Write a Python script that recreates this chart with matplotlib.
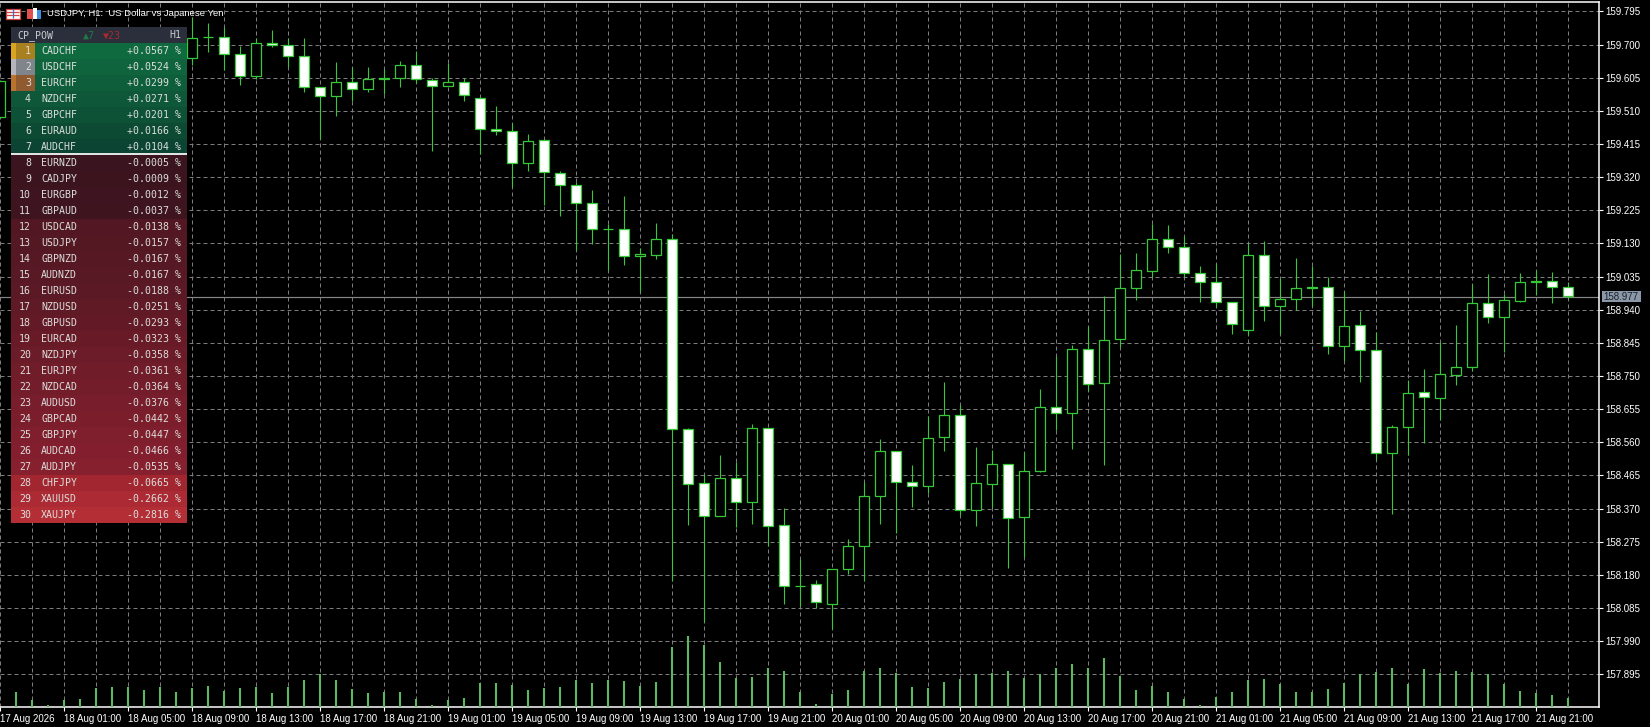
import numpy as np
import matplotlib
matplotlib.use("Agg")
import matplotlib.pyplot as plt
from matplotlib.patches import Rectangle

# USDJPY H1 candles (bars 1-11 are hidden behind the panel)
bar_index = [0] + list(range(12, 99))
highs = [159.596, 159.779, 159.763, 159.750, 159.695, 159.719, 159.743, 159.720, 159.720, 159.578,
         159.649, 159.637, 159.637, 159.631, 159.652, 159.681, 159.603, 159.647, 159.603, 159.550,
         159.525, 159.476, 159.444, 159.428, 159.339, 159.305, 159.284, 159.185, 159.267, 159.116,
         159.188, 159.157, 158.602, 158.469, 158.524, 158.503, 158.612, 158.601, 158.372, 158.227,
         158.165, 158.198, 158.284, 158.446, 158.570, 158.536, 158.495, 158.636, 158.733, 158.668,
         158.547, 158.538, 158.497, 158.532, 158.712, 158.806, 158.839, 158.894, 158.978, 159.099,
         159.102, 159.185, 159.183, 159.150, 159.065, 159.071, 158.961, 159.132, 159.137, 159.030,
         159.087, 159.066, 159.035, 158.995, 158.937, 158.875, 158.609, 158.738, 158.770, 158.847,
         158.896, 159.014, 159.043, 158.984, 159.045, 159.054, 159.048, 159.019]
lows = [159.492, 159.642, 159.678, 159.628, 159.584, 159.601, 159.693, 159.636, 159.564, 159.429,
        159.495, 159.538, 159.563, 159.557, 159.578, 159.590, 159.395, 159.581, 159.538, 159.387,
        159.441, 159.292, 159.337, 159.241, 159.210, 159.112, 159.127, 159.055, 159.069, 158.990,
        159.086, 158.164, 158.322, 158.044, 158.348, 158.316, 158.327, 158.264, 158.098, 158.092,
        158.085, 158.026, 158.183, 158.162, 158.327, 158.301, 158.375, 158.414, 158.534, 158.352,
        158.321, 158.371, 158.201, 158.232, 158.476, 158.594, 158.542, 158.708, 158.495, 158.834,
        158.969, 159.035, 159.104, 159.035, 158.963, 158.949, 158.871, 158.869, 158.909, 158.871,
        158.938, 158.951, 158.814, 158.792, 158.734, 158.508, 158.355, 158.524, 158.557, 158.624,
        158.723, 158.765, 158.903, 158.818, 158.963, 158.982, 158.960, 158.972]
opens = [159.492, 159.662, 159.723, 159.721, 159.674, 159.610, 159.705, 159.699, 159.668, 159.578,
         159.552, 159.593, 159.573, 159.604, 159.604, 159.641, 159.599, 159.581, 159.593, 159.548,
         159.459, 159.452, 159.360, 159.426, 159.333, 159.297, 159.246, 159.172, 159.171, 159.093,
         159.098, 159.142, 158.598, 158.443, 158.348, 158.458, 158.389, 158.601, 158.323, 158.148,
         158.153, 158.096, 158.196, 158.262, 158.406, 158.535, 158.446, 158.434, 158.575, 158.638,
         158.365, 158.442, 158.497, 158.345, 158.477, 158.661, 158.643, 158.827, 158.729, 158.855,
         159.001, 159.050, 159.142, 159.119, 159.045, 159.019, 158.961, 158.881, 159.096, 158.950,
         158.970, 159.004, 159.004, 158.835, 158.896, 158.824, 158.529, 158.605, 158.704, 158.688,
         158.752, 158.775, 158.959, 158.918, 158.966, 159.022, 159.022, 159.004]
closes = [159.596, 159.720, 159.721, 159.674, 159.611, 159.705, 159.700, 159.668, 159.579, 159.553,
          159.593, 159.572, 159.602, 159.602, 159.642, 159.602, 159.582, 159.593, 159.556, 159.459,
          159.453, 159.361, 159.424, 159.334, 159.297, 159.246, 159.171, 159.171, 159.093, 159.099,
          159.142, 158.598, 158.440, 158.348, 158.458, 158.389, 158.601, 158.319, 158.148, 158.147,
          158.102, 158.198, 158.263, 158.406, 158.535, 158.446, 158.434, 158.572, 158.638, 158.365,
          158.443, 158.497, 158.342, 158.477, 158.661, 158.643, 158.827, 158.726, 158.853, 159.002,
          159.053, 159.142, 159.119, 159.045, 159.019, 158.961, 158.898, 159.096, 158.950, 158.970,
          159.002, 159.001, 158.835, 158.893, 158.824, 158.529, 158.603, 158.701, 158.689, 158.755,
          158.775, 158.959, 158.918, 158.967, 159.019, 159.019, 159.004, 158.979]

# tick volume, bars 1..98
volumes = [46, 23, 7, 22, 25, 58, 61, 62, 52, 62, 46, 59, 64, 49, 58, 62, 43, 62, 82, 99,
           82, 55, 43, 45, 46, 26, 7, 22, 28, 73, 73, 67, 52, 58, 61, 81, 73, 81, 79, 64,
           76, 181, 214, 187, 136, 88, 91, 118, 109, 46, 10, 40, 52, 109, 118, 103, 61, 58, 76, 85,
           99, 103, 109, 88, 99, 118, 130, 118, 148, 93, 52, 64, 46, 26, 7, 31, 46, 82, 85, 70,
           46, 45, 55, 73, 99, 106, 118, 70, 115, 103, 109, 106, 99, 70, 49, 44, 37, 28]

price_ticks = [159.795, 159.700, 159.605, 159.510, 159.415, 159.320, 159.225, 159.130, 159.035,
               158.940, 158.845, 158.750, 158.655, 158.560, 158.465, 158.370, 158.275, 158.180,
               158.085, 157.990, 157.895]
time_labels = ["17 Aug 2026", "18 Aug 01:00", "18 Aug 05:00", "18 Aug 09:00", "18 Aug 13:00",
               "18 Aug 17:00", "18 Aug 21:00", "19 Aug 01:00", "19 Aug 05:00", "19 Aug 09:00",
               "19 Aug 13:00", "19 Aug 17:00", "19 Aug 21:00", "20 Aug 01:00", "20 Aug 05:00",
               "20 Aug 09:00", "20 Aug 13:00", "20 Aug 17:00", "20 Aug 21:00", "21 Aug 01:00",
               "21 Aug 05:00", "21 Aug 09:00", "21 Aug 13:00", "21 Aug 17:00", "21 Aug 21:00"]
last_price = 158.977

# CP_POW panel
pairs = ["CADCHF", "USDCHF", "EURCHF", "NZDCHF", "GBPCHF", "EURAUD", "AUDCHF", "EURNZD", "CADJPY",
         "EURGBP", "GBPAUD", "USDCAD", "USDJPY", "GBPNZD", "AUDNZD", "EURUSD", "NZDUSD", "GBPUSD",
         "EURCAD", "NZDJPY", "EURJPY", "NZDCAD", "AUDUSD", "GBPCAD", "GBPJPY", "AUDCAD", "AUDJPY",
         "CHFJPY", "XAUUSD", "XAUJPY"]
changes = [0.0567, 0.0524, 0.0299, 0.0271, 0.0201, 0.0166, 0.0104, -0.0005, -0.0009, -0.0012,
           -0.0037, -0.0138, -0.0157, -0.0167, -0.0167, -0.0188, -0.0251, -0.0293, -0.0323, -0.0358,
           -0.0361, -0.0364, -0.0376, -0.0442, -0.0447, -0.0466, -0.0535, -0.0665, -0.2662, -0.2816]

W, H = 1650, 727
GREEN = "#37c837"
GRID = "#7c7c7c"
FONT = "Liberation Sans"
MONO = "DejaVu Sans Mono"

fig = plt.figure(figsize=(W / 100, H / 100), dpi=100, facecolor="black")
ax = fig.add_axes([0, (H - 707.3) / H, 1599.3 / W, 705 / H], facecolor="black")
ax.set_xlim(-0.02, 99.94)
ax.set_ylim(157.8006, 159.8211)

# volumes on their own scale (twinx first, it moves the price ticks to the left)
vol_ax = ax.twinx()
vol_ax.set_ylim(0, 705 * 3)
vol_ax.vlines(np.arange(1, 99), 0, volumes, color="#5cb85c", lw=1.5)
vol_ax.yaxis.set_visible(False)
for s in vol_ax.spines.values():
    s.set_visible(False)

# grid
ax.set_axisbelow(True)
ax.set_xticks(np.arange(0, 97, 4))
ax.set_xticklabels(time_labels, ha="left", fontsize=7.0, color="white", family=FONT)
ax.set_xticks(np.arange(0, 100, 2), minor=True)
ax.set_yticks(price_ticks)
ax.set_yticklabels([f"{p:.3f}" for p in price_ticks], fontsize=7.0, color="white", family=FONT)
ax.yaxis.tick_right()
ax.tick_params(axis="x", which="major", length=3, width=0.8, color="white", pad=2)
ax.tick_params(axis="x", which="minor", length=0)
ax.tick_params(axis="y", length=3, width=0.8, color="white", pad=1.5)
ax.grid(which="major", color=GRID, lw=0.72, linestyle=(0, (4, 3)))
ax.grid(which="minor", axis="x", color=GRID, lw=0.72, linestyle=(0, (4, 3)))
for s in ["top", "bottom", "right"]:
    ax.spines[s].set_color("white")
    ax.spines[s].set_linewidth(1.1)
ax.spines["left"].set_visible(False)

ax.axhline(last_price, color="#868686", lw=0.85, zorder=1.5)

# candles
x = np.array(bar_index)
o, c = np.array(opens), np.array(closes)
ax.vlines(x, lows, highs, color=GREEN, lw=0.8, zorder=2.5)
top = np.maximum(o, c)
bottom = np.minimum(o, c)
fill = ["white" if cl < op else "black" for op, cl in zip(o, c)]
ax.bar(x, top - bottom, bottom=bottom, width=0.625, color=fill, edgecolor=GREEN, linewidth=0.9, zorder=3)

# last price tag
trans = ax.get_yaxis_transform()
ax.add_patch(Rectangle((1.0019, last_price - 0.0158), 0.0242, 0.0316, transform=trans,
                       facecolor="#8a98a8", edgecolor="none", clip_on=False, zorder=5))
ax.text(1.0135, last_price, f"{last_price:.3f}", transform=trans, ha="center", va="center",
        fontsize=7.0, color="#1a202c", family=FONT, zorder=6)

# panel
panel = fig.add_axes([11 / W, (H - 523.3) / H, 176 / W, 496 / H], facecolor="#2b2f3b")
panel.set_xlim(11, 187)
panel.set_ylim(30.5, -0.5)
panel.axis("off")
rows = np.arange(1, 31)
red = np.array([np.interp(rows, [8, 11, 12, 16, 20, 27, 28, 30], ch) for ch in
                [[58, 62, 82, 90, 108, 134, 162, 180], [20, 20, 23, 25, 27, 31, 38, 46],
                 [30, 31, 34, 36, 40, 46, 48, 54]]]).T / 255
green = np.array([np.interp(rows, [1, 7], ch) for ch in [[16, 11], [106, 68], [64, 50]]]).T / 255
row_colors = [green[i] if changes[i] > 0 else red[i] for i in range(30)]
panel.barh(rows, [176] * 30, left=11, height=1.0, color=row_colors)
panel.barh(0, 176, left=11, height=1.0, color="#2b2f3b")

medals = [("#d9a521", "#a8801f"), ("#b4b6bc", "#80858b"), ("#b9732f", "#8f5a30")]
for i, (light, dark) in enumerate(medals):
    panel.barh(i + 1, 5, left=11, height=1.0, color=light)
    panel.barh(i + 1, 19, left=16, height=1.0, color=dark)
panel.hlines(7.45, 11, 187, color="#e8e8e8", lw=1.4)

text_color = "#dcdfdc"
panel.text(17, 0, "CP_POW", color="#c8ccd0", fontsize=7.1, family=MONO, va="center")
panel.text(83, 0, "▲7", color="#1f7a45", fontsize=7.1, family=MONO, va="center")
panel.text(103, 0, "▼23", color="#a82a2e", fontsize=7.1, family=MONO, va="center")
panel.text(181, 0, "H1", color="#c8ccd0", fontsize=7.1, family=MONO, va="center", ha="right")
for i, (pair, val) in enumerate(zip(pairs, changes)):
    y = i + 1
    panel.text(31, y, str(y), color=text_color, fontsize=7.1, family=MONO, va="center", ha="right")
    panel.text(41, y, pair, color=text_color, fontsize=7.1, family=MONO, va="center")
    panel.text(181, y, f"{val:+.4f} %", color=text_color, fontsize=7.1, family=MONO, va="center", ha="right")

# title and the two little icons
top_ax = fig.add_axes([0, 0, 1, 1], facecolor="none")
top_ax.set_xlim(0, W)
top_ax.set_ylim(H, 0)
top_ax.axis("off")
top_ax.add_patch(Rectangle((5.5, 8.5), 14, 10, facecolor="white", edgecolor="#d84040", lw=0.9))
for yy in [11.5, 14.5]:
    top_ax.hlines(yy, 6, 19, color="#d84040", lw=0.9)
top_ax.vlines(12.5, 9, 18, color="#3a6fd0", lw=0.9)
top_ax.add_patch(Rectangle((27, 9), 6, 10, facecolor="#e05050", edgecolor="none"))
top_ax.add_patch(Rectangle((33, 8), 4, 11, facecolor="white", edgecolor="none"))
top_ax.add_patch(Rectangle((37, 10), 4, 9, facecolor="#3f8fe0", edgecolor="none"))
top_ax.text(47, 13.7, "USDJPY, H1:  US Dollar vs Japanese Yen", color="white", fontsize=6.8, family=FONT, va="center")

fig.savefig("out.png", dpi=100, facecolor="black")
